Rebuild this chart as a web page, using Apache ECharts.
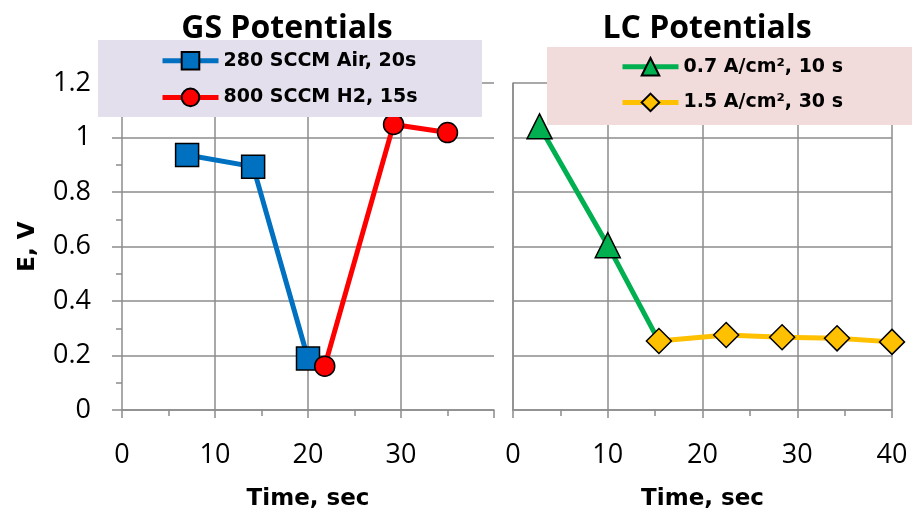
<!DOCTYPE html>
<html>
<head>
<meta charset="utf-8">
<script src="https://cdn.jsdelivr.net/npm/echarts@6/dist/echarts.min.js"></script>
<style>
  html, body { margin: 0; padding: 0; background: #fff; }
  #chart { width: 912px; height: 516px; }
</style>
</head>
<body>
<div id="chart"></div>
<script>
// GS potentials (left panel)
const gsAirTime = [7.0, 14.1, 20.0];
const gsAirE    = [0.936, 0.893, 0.189];
const gsH2Time  = [21.8, 29.2, 35.0];
const gsH2E     = [0.161, 1.048, 1.018];

// LC potentials (right panel)
const lcLowTime  = [2.8, 10.0, 15.4];
const lcLowE     = [1.041, 0.605, 0.253];
const lcHighTime = [15.4, 22.5, 28.4, 34.2, 40.0];
const lcHighE    = [0.253, 0.275, 0.267, 0.263, 0.25];

const seriesNames = ['280 SCCM Air, 20s', '800 SCCM H2, 15s', '0.7 A/cm², 10 s', '1.5 A/cm², 30 s'];
const panelTitles = ['GS Potentials', 'LC Potentials'];
const xTitle = 'Time, sec';
const yTitle = 'E, V';
const leftGridLines = [10, 20, 30];

const FONT = '"Open Sans", "Liberation Sans", sans-serif';
const WIDE_BOLD = '"DejaVu Sans", "Open Sans", sans-serif';
const GRID_COLOR = '#8c8c8c';

// [x, y] pairs; the low-current curve hands over to the high-current one,
// so its last joint is drawn without a marker
const pairs = (xs, ys, hideLast) => xs.map((x, i) =>
  (hideLast && i === xs.length - 1) ? { value: [x, ys[i]], symbol: 'none' } : [x, ys[i]]);

const chart = echarts.init(document.getElementById('chart'), null, { renderer: 'canvas' });

function xAxisFor(gridIndex) {
  return {
    type: 'value', gridIndex, min: 0, max: 40, interval: 10,
    name: xTitle, nameLocation: 'middle', nameGap: 78,
    nameTextStyle: { fontFamily: WIDE_BOLD, fontWeight: 'bold', fontSize: 23, color: '#000' },
    axisLine: { show: true, onZero: false, lineStyle: { color: GRID_COLOR, width: 1.5 } },
    axisTick: { show: true, length: 8, lineStyle: { color: GRID_COLOR, width: 1.5 } },
    minorTick: { show: true, splitNumber: 2, length: 6, lineStyle: { color: GRID_COLOR, width: 1.5 } },
    axisLabel: { show: true, showMaxLabel: gridIndex === 1, margin: 32,
      fontFamily: FONT, fontSize: 27, color: '#000' },
    splitLine: { show: gridIndex === 1, lineStyle: { color: GRID_COLOR, width: 1.5 } }
  };
}

function yAxisFor(gridIndex) {
  const left = gridIndex === 0;
  return {
    type: 'value', gridIndex, min: 0, max: 1.2, interval: 0.2,
    name: left ? yTitle : '', nameLocation: 'middle', nameGap: 82,
    nameTextStyle: { fontFamily: WIDE_BOLD, fontWeight: 'bold', fontSize: 23, color: '#000' },
    axisLine: { show: true, lineStyle: { color: GRID_COLOR, width: 1.5 } },
    axisTick: { show: left, length: 10, lineStyle: { color: GRID_COLOR, width: 1.5 } },
    minorTick: { show: left, splitNumber: 2, length: 6, lineStyle: { color: GRID_COLOR, width: 1.5 } },
    axisLabel: { show: left, margin: 31, fontFamily: FONT, fontSize: 27, color: '#000',
      formatter: v => String(Math.round(v * 10) / 10) },
    splitLine: { show: true, lineStyle: { color: GRID_COLOR, width: 1.5 } }
  };
}

function lineSeries(name, data, color, symbol, size, xi) {
  return {
    name, type: 'line', data, xAxisIndex: xi, yAxisIndex: xi,
    symbol, symbolSize: size, showSymbol: true, z: 20,
    lineStyle: { color, width: 5 },
    itemStyle: { color, borderColor: '#000', borderWidth: 1.5 },
    emphasis: { disabled: true },
    animation: false
  };
}

const legendText = { fontFamily: WIDE_BOLD, fontWeight: 'bold', fontSize: 19, color: '#000' };
const legendCommon = {
  orient: 'vertical', itemWidth: 56, itemHeight: 22, padding: 0, z: 60,
  textStyle: legendText, selectedMode: false, lineStyle: { width: 5 }
};

chart.setOption({
  backgroundColor: '#fff',
  animation: false,
  title: [
    { text: panelTitles[0], left: 287, top: 13, textAlign: 'center', padding: 0,
      textStyle: { fontFamily: FONT, fontWeight: 'bold', fontSize: 32, color: '#000' } },
    { text: panelTitles[1], left: 707, top: 13, textAlign: 'center', padding: 0,
      textStyle: { fontFamily: FONT, fontWeight: 'bold', fontSize: 32, color: '#000' } }
  ],
  graphic: [
    { type: 'rect', shape: { x: 98, y: 40, width: 384, height: 77 },
      style: { fill: '#e4dfec' }, z: 50, silent: true },
    { type: 'rect', shape: { x: 547, y: 47, width: 365, height: 78 },
      style: { fill: '#f2dcdb' }, z: 50, silent: true }
  ],
  legend: [
    Object.assign({ data: [seriesNames[0], seriesNames[1]], left: 160, top: 51, itemGap: 17 }, legendCommon),
    Object.assign({ data: [seriesNames[2], seriesNames[3]], left: 620, top: 57, itemGap: 16 }, legendCommon)
  ],
  grid: [
    { left: 122, top: 83, width: 372, height: 332, containLabel: false },
    { left: 513, top: 83, width: 379, height: 332, containLabel: false }
  ],
  xAxis: [xAxisFor(0), xAxisFor(1)],
  yAxis: [yAxisFor(0), yAxisFor(1)],
  series: [
    // vertical gridlines of the left panel (its right edge is open)
    {
      type: 'line', xAxisIndex: 0, yAxisIndex: 0, data: [], silent: true, z: 1,
      markLine: {
        silent: true, symbol: 'none', label: { show: false },
        lineStyle: { color: GRID_COLOR, width: 1.5, type: 'solid' },
        data: leftGridLines.map(v => ({ xAxis: v }))
      }
    },
    lineSeries(seriesNames[0], pairs(gsAirTime, gsAirE), '#0070c0', 'rect', 23, 0),
    lineSeries(seriesNames[1], pairs(gsH2Time, gsH2E), '#ff0000', 'circle', 20, 0),
    lineSeries(seriesNames[2], pairs(lcLowTime, lcLowE, true), '#00b050', 'triangle', 25, 1),
    lineSeries(seriesNames[3], pairs(lcHighTime, lcHighE), '#ffc000', 'diamond', 25, 1)
  ]
});
</script>
</body>
</html>
